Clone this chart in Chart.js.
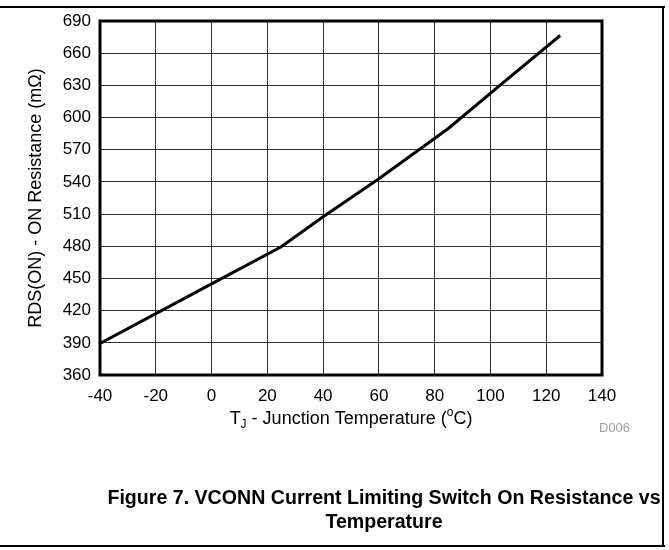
<!DOCTYPE html>
<html>
<head>
<meta charset="utf-8">
<script src="https://cdn.jsdelivr.net/npm/chart.js@4/dist/chart.umd.min.js"></script>
<style>
  body { margin: 0; background: #fff; font-family: "Liberation Sans", Arial, sans-serif; }
  #wrap { position: relative; width: 669px; height: 550px; overflow: hidden; }
  #chart { position: absolute; left: 0; top: 0; }
  .rule { position: absolute; background: #000; }
  #code { position: absolute; left: 599px; top: 420px; font-size: 13px; color: #a0a0a0; }
  #caption { position: absolute; left: 59px; width: 650px; top: 485px; text-align: center;
             font-weight: bold; font-size: 19.6px; line-height: 24px; color: #000; }
</style>
</head>
<body>
<div id="wrap">
  <canvas id="chart" width="669" height="550"></canvas>
  <div class="rule" style="left:0;top:6px;width:665px;height:2px"></div>
  <div class="rule" style="left:662px;top:6px;width:2px;height:541px"></div>
  <div class="rule" style="left:0;top:545px;width:665px;height:2px"></div>
  <div id="code">D006</div>
  <div id="caption">Figure 7. VCONN Current Limiting Switch On Resistance vs<br>Temperature</div>
</div>
<script>
// data
const tempC = [-40, 0, 25, 40, 60, 85, 105, 125];
const rdsOn = [389.5, 445, 479.5, 507.5, 543, 590, 633.5, 676.5];
const xTicks = [-40, -20, 0, 20, 40, 60, 80, 100, 120, 140];
const yTicks = [360, 390, 420, 450, 480, 510, 540, 570, 600, 630, 660, 690];

const FONT = "'Liberation Sans', Arial, sans-serif";

//frame + axis titles
const extras = {
  id: "extras",
  afterDraw(c) {
    const ctx = c.ctx;
    const a = c.chartArea;
    ctx.save();
    ctx.strokeStyle = "#000";
    ctx.lineWidth = 3;
    ctx.strokeRect(a.left, a.top, a.right - a.left, a.bottom - a.top);

    ctx.fillStyle = "#000";
    ctx.textBaseline = "middle";
    ctx.textAlign = "center";
    ctx.translate(36, (a.top + a.bottom) / 2);
    ctx.rotate(-Math.PI / 2);
    ctx.font = "18px " + FONT;
    ctx.fillText("RDS(ON) - ON Resistance (m\u03A9)", 0, 0);
    ctx.restore();

    // x title with sub / superscript
    ctx.save();
    ctx.fillStyle = "#000";
    ctx.textBaseline = "alphabetic";
    ctx.textAlign = "left";
    const parts = [
      ["T", 18, 0],
      ["J", 12, 4],
      [" - Junction Temperature (", 18, 0],
      ["o", 12, -8],
      ["C)", 18, 0],
    ];
    let w = 0;
    parts.forEach((p) => {
      ctx.font = p[1] + "px " + FONT;
      w += ctx.measureText(p[0]).width;
    });
    let x = (a.left + a.right) / 2 - w / 2;
    const base = 423.5;
    parts.forEach((p) => {
      ctx.font = p[1] + "px " + FONT;
      ctx.fillText(p[0], x, base + p[2]);
      x += ctx.measureText(p[0]).width;
    });
    ctx.restore();
  },
};

new Chart(document.getElementById("chart"), {
  type: "line",
  data: {
    datasets: [
      {
        data: tempC.map((t, i) => ({ x: t, y: rdsOn[i] })),
        borderColor: "#000",
        borderWidth: 3,
        pointRadius: 0,
        tension: 0,
      },
    ],
  },
  options: {
    responsive: false,
    animation: false,
    events: [],
    layout: { padding: { left: 0, right: 67, top: 21, bottom: 115 } },
    plugins: { legend: { display: false }, tooltip: { enabled: false } },
    scales: {
      x: {
        type: "linear",
        min: -40,
        max: 140,
        afterBuildTicks: (s) => { s.ticks = xTicks.map((v) => ({ value: v })); },
        afterFit: (s) => { s.height = 60; },
        grid: { color: "#333", lineWidth: 1, drawTicks: false },
        border: { display: false },
        ticks: { color: "#000", font: { family: FONT, size: 17 }, padding: 11 },
      },
      y: {
        min: 360,
        max: 690,
        afterBuildTicks: (s) => { s.ticks = yTicks.map((v) => ({ value: v })); },
        afterFit: (s) => { s.width = 100; },
        grid: { color: "#333", lineWidth: 1, drawTicks: false },
        border: { display: false },
        ticks: { color: "#000", font: { family: FONT, size: 17 }, padding: 9 },
      },
    },
  },
  plugins: [extras],
});
</script>
</body>
</html>
